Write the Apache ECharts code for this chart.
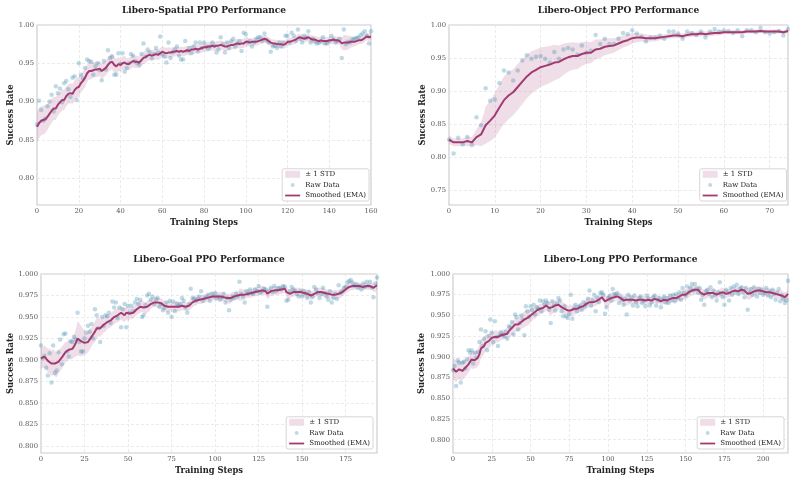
<!DOCTYPE html>
<html>
<head>
<meta charset="utf-8">
<script src="https://cdn.jsdelivr.net/npm/echarts@6/dist/echarts.min.js"></script>
<style>
html, body { margin: 0; padding: 0; background: #fff; }
#chart { width: 795px; height: 483px; }
</style>
</head>
<body>
<div id="chart"></div>
<script>
// titles / legend names
var titles = ['Libero-Spatial PPO Performance', 'Libero-Object PPO Performance',
              'Libero-Goal PPO Performance', 'Libero-Long PPO Performance'];
var bandName = '± 1 STD', rawName = 'Raw Data', emaName = 'Smoothed (EMA)';

// Libero-Spatial (steps 0..160)
var spatialRaw = [
  0.870,0.901,0.889,0.875,0.878,0.894,0.900,0.909,0.887,0.920,
  0.911,0.917,0.899,0.924,0.927,0.916,0.906,0.931,0.933,0.902,
  0.950,0.935,0.930,0.944,0.955,0.953,0.952,0.935,0.946,0.950,
  0.941,0.928,0.953,0.942,0.967,0.957,0.959,0.935,0.935,0.963,
  0.949,0.963,0.939,0.944,0.950,0.962,0.960,0.953,0.950,0.948,
  0.962,0.976,0.959,0.968,0.964,0.957,0.962,0.970,0.964,0.985,
  0.962,0.959,0.951,0.977,0.957,0.964,0.968,0.972,0.960,0.955,
  0.955,0.979,0.966,0.970,0.963,0.972,0.977,0.966,0.977,0.970,
  0.977,0.972,0.969,0.972,0.977,0.973,0.964,0.968,0.984,0.975,
  0.964,0.977,0.970,0.979,0.982,0.972,0.976,0.979,0.966,0.990,
  0.988,0.977,0.979,0.972,0.977,0.982,0.984,0.984,0.979,0.989,
  0.980,0.977,0.965,0.972,0.973,0.970,0.977,0.972,0.977,0.986,
  0.986,0.977,0.990,0.986,0.979,0.994,0.982,0.977,0.986,0.983,
  0.992,0.977,0.982,0.979,0.976,0.977,0.979,0.984,0.976,0.976,
  0.979,0.986,0.981,0.977,0.979,0.982,0.957,0.994,0.975,0.978,
  0.977,0.981,0.982,0.983,0.984,0.987,0.989,0.992,0.986,0.976,
  0.992];
var spatialEma = [
  0.867,0.872,0.875,0.876,0.877,0.880,0.884,0.888,0.891,0.891,
  0.896,0.899,0.902,0.902,0.907,0.910,0.911,0.910,0.915,0.918,
  0.919,0.924,0.927,0.931,0.937,0.940,0.940,0.941,0.942,0.942,
  0.943,0.940,0.942,0.944,0.948,0.951,0.952,0.948,0.946,0.949,
  0.948,0.950,0.951,0.949,0.949,0.951,0.953,0.952,0.952,0.951,
  0.954,0.957,0.958,0.960,0.961,0.960,0.961,0.962,0.961,0.963,
  0.965,0.964,0.963,0.964,0.964,0.965,0.965,0.966,0.965,0.966,
  0.965,0.966,0.967,0.966,0.968,0.968,0.969,0.968,0.969,0.970,
  0.971,0.971,0.972,0.972,0.973,0.972,0.973,0.973,0.974,0.973,
  0.972,0.972,0.973,0.974,0.974,0.975,0.976,0.975,0.976,0.976,
  0.978,0.978,0.977,0.978,0.978,0.978,0.979,0.980,0.981,0.982,
  0.981,0.979,0.977,0.976,0.976,0.975,0.975,0.975,0.974,0.975,
  0.978,0.978,0.979,0.980,0.981,0.983,0.984,0.983,0.982,0.983,
  0.984,0.982,0.981,0.981,0.980,0.979,0.980,0.979,0.979,0.979,
  0.980,0.980,0.981,0.980,0.980,0.979,0.976,0.977,0.977,0.977,
  0.978,0.978,0.978,0.979,0.980,0.980,0.981,0.983,0.985,0.984,
  0.985];
var spatialStd = [
  0.020,0.020,0.019,0.019,0.018,0.017,0.016,0.016,0.015,0.015,
  0.014,0.014,0.014,0.013,0.013,0.013,0.013,0.013,0.013,0.013,
  0.013,0.012,0.012,0.012,0.011,0.011,0.011,0.010,0.010,0.010,
  0.010,0.010,0.010,0.010,0.010,0.010,0.010,0.010,0.010,0.009,
  0.009,0.009,0.009,0.008,0.008,0.008,0.008,0.008,0.008,0.008,
  0.008,0.008,0.008,0.007,0.007,0.007,0.007,0.007,0.007,0.007,
  0.007,0.007,0.007,0.007,0.006,0.006,0.006,0.006,0.006,0.006,
  0.006,0.006,0.006,0.006,0.006,0.006,0.006,0.006,0.006,0.006,
  0.006,0.006,0.006,0.006,0.006,0.006,0.006,0.006,0.006,0.006,
  0.006,0.006,0.006,0.006,0.006,0.006,0.006,0.006,0.006,0.006,
  0.006,0.006,0.005,0.005,0.005,0.005,0.005,0.005,0.005,0.005,
  0.005,0.005,0.005,0.005,0.005,0.005,0.005,0.005,0.005,0.005,
  0.005,0.005,0.005,0.005,0.005,0.005,0.005,0.005,0.005,0.005,
  0.005,0.005,0.005,0.005,0.005,0.005,0.005,0.005,0.005,0.005,
  0.005,0.005,0.005,0.005,0.005,0.005,0.008,0.010,0.010,0.009,
  0.008,0.007,0.006,0.006,0.005,0.005,0.005,0.005,0.005,0.005,
  0.005];

// Libero-Object (steps 0..74)
var objectRaw = [
  0.826,0.805,0.829,0.819,0.830,0.819,0.860,0.848,0.904,0.885,
  0.887,0.912,0.931,0.928,0.916,0.931,0.946,0.954,0.949,0.952,
  0.953,0.949,0.943,0.959,0.949,0.963,0.965,0.963,0.955,0.969,
  0.958,0.961,0.985,0.971,0.979,0.971,0.971,0.979,0.988,0.986,
  0.992,0.987,0.982,0.975,0.981,0.981,0.984,0.979,0.990,0.990,
  0.987,0.979,0.990,0.988,0.985,0.990,0.981,0.990,0.994,0.990,
  0.992,0.991,0.988,0.992,0.983,0.992,0.992,0.989,0.996,0.989,
  0.987,0.989,0.991,0.984,0.994];
var objectEma = [
  0.826,0.822,0.822,0.822,0.824,0.822,0.830,0.834,0.848,0.855,
  0.863,0.875,0.886,0.893,0.898,0.906,0.914,0.922,0.928,0.932,
  0.936,0.938,0.940,0.943,0.944,0.948,0.951,0.953,0.953,0.956,
  0.958,0.958,0.963,0.964,0.967,0.968,0.969,0.972,0.975,0.977,
  0.980,0.981,0.981,0.980,0.980,0.980,0.981,0.982,0.983,0.984,
  0.984,0.983,0.985,0.986,0.986,0.987,0.986,0.987,0.988,0.988,
  0.989,0.989,0.989,0.989,0.989,0.990,0.990,0.990,0.991,0.990,
  0.990,0.990,0.990,0.989,0.991];
var objectStd = [
  0.006,0.006,0.006,0.006,0.007,0.008,0.012,0.018,0.028,0.031,
  0.034,0.035,0.036,0.036,0.035,0.035,0.034,0.033,0.032,0.031,
  0.030,0.029,0.028,0.027,0.025,0.024,0.022,0.021,0.020,0.018,
  0.017,0.016,0.015,0.014,0.013,0.012,0.011,0.010,0.009,0.009,
  0.008,0.007,0.006,0.006,0.005,0.005,0.004,0.004,0.004,0.004,
  0.004,0.004,0.004,0.004,0.004,0.004,0.004,0.004,0.004,0.004,
  0.003,0.003,0.003,0.003,0.003,0.003,0.003,0.003,0.003,0.003,
  0.003,0.003,0.003,0.003,0.003];

// Libero-Goal (steps 0..193)
var goalRaw = [
  0.917,0.902,0.905,0.891,0.882,0.908,0.874,0.917,0.885,0.888,
  0.909,0.924,0.895,0.930,0.931,0.910,0.904,0.922,0.921,0.927,
  0.924,0.955,0.921,0.910,0.910,0.925,0.932,0.940,0.933,0.942,
  0.925,0.959,0.952,0.937,0.921,0.950,0.940,0.952,0.951,0.955,
  0.943,0.968,0.961,0.967,0.949,0.961,0.938,0.959,0.965,0.938,
  0.963,0.955,0.963,0.957,0.967,0.971,0.965,0.970,0.950,0.952,
  0.964,0.975,0.977,0.970,0.974,0.965,0.970,0.972,0.962,0.965,
  0.958,0.961,0.967,0.955,0.969,0.950,0.968,0.957,0.965,0.963,
  0.965,0.972,0.969,0.961,0.955,0.965,0.983,0.972,0.971,0.969,
  0.971,0.974,0.980,0.969,0.972,0.973,0.976,0.969,0.977,0.974,
  0.978,0.972,0.974,0.970,0.973,0.977,0.967,0.972,0.958,0.970,
  0.974,0.972,0.977,0.974,0.991,0.977,0.974,0.967,0.980,0.977,
  0.982,0.978,0.977,0.982,0.980,0.986,0.978,0.980,0.983,0.982,
  0.962,0.980,0.984,0.979,0.986,0.980,0.983,0.984,0.982,0.986,
  0.985,0.969,0.970,0.980,0.985,0.982,0.980,0.977,0.974,0.980,
  0.974,0.980,0.977,0.972,0.979,0.967,0.974,0.985,0.982,0.978,
  0.972,0.977,0.984,0.978,0.974,0.970,0.980,0.967,0.972,0.977,
  0.971,0.987,0.978,0.980,0.984,0.985,0.990,0.992,0.993,0.990,
  0.986,0.988,0.984,0.986,0.982,0.989,0.985,0.991,0.986,0.991,
  0.984,0.973,0.989,0.996];
var goalEma = [
  0.902,0.903,0.904,0.902,0.899,0.899,0.896,0.898,0.896,0.894,
  0.898,0.900,0.903,0.906,0.909,0.910,0.912,0.912,0.913,0.916,
  0.920,0.925,0.924,0.922,0.921,0.920,0.919,0.921,0.924,0.927,
  0.930,0.933,0.937,0.939,0.937,0.939,0.941,0.942,0.944,0.945,
  0.946,0.948,0.950,0.951,0.952,0.953,0.955,0.953,0.952,0.955,
  0.953,0.954,0.955,0.955,0.957,0.959,0.961,0.962,0.963,0.961,
  0.960,0.962,0.963,0.965,0.967,0.967,0.968,0.967,0.966,0.966,
  0.964,0.963,0.962,0.962,0.963,0.962,0.961,0.962,0.963,0.962,
  0.962,0.963,0.963,0.962,0.961,0.963,0.965,0.967,0.969,0.969,
  0.970,0.970,0.970,0.971,0.972,0.972,0.973,0.973,0.974,0.974,
  0.974,0.974,0.974,0.974,0.974,0.973,0.972,0.972,0.971,0.972,
  0.974,0.974,0.975,0.975,0.976,0.976,0.976,0.976,0.977,0.977,
  0.977,0.978,0.979,0.979,0.980,0.980,0.981,0.981,0.981,0.980,
  0.977,0.978,0.980,0.980,0.981,0.981,0.981,0.981,0.982,0.982,
  0.983,0.979,0.977,0.977,0.978,0.979,0.979,0.979,0.979,0.979,
  0.979,0.978,0.977,0.977,0.977,0.975,0.975,0.977,0.979,0.979,
  0.979,0.979,0.979,0.978,0.977,0.977,0.977,0.976,0.976,0.976,
  0.976,0.977,0.977,0.979,0.981,0.982,0.984,0.985,0.986,0.986,
  0.986,0.986,0.986,0.986,0.985,0.985,0.986,0.986,0.985,0.986,
  0.986,0.984,0.984,0.987];
var goalStd = [
  0.012,0.012,0.013,0.013,0.014,0.014,0.015,0.015,0.015,0.014,
  0.014,0.013,0.013,0.012,0.012,0.011,0.011,0.011,0.012,0.013,
  0.016,0.020,0.019,0.018,0.016,0.014,0.012,0.012,0.012,0.011,
  0.011,0.012,0.012,0.011,0.010,0.010,0.009,0.009,0.008,0.008,
  0.008,0.008,0.008,0.008,0.008,0.008,0.008,0.008,0.008,0.008,
  0.008,0.007,0.007,0.007,0.007,0.007,0.007,0.007,0.007,0.007,
  0.007,0.007,0.007,0.006,0.006,0.006,0.006,0.006,0.006,0.006,
  0.006,0.006,0.006,0.006,0.006,0.006,0.006,0.006,0.006,0.006,
  0.005,0.005,0.005,0.005,0.005,0.005,0.006,0.006,0.006,0.006,
  0.005,0.005,0.005,0.005,0.005,0.005,0.005,0.005,0.005,0.005,
  0.005,0.005,0.005,0.005,0.005,0.005,0.005,0.005,0.006,0.006,
  0.005,0.005,0.005,0.005,0.007,0.007,0.006,0.006,0.005,0.005,
  0.005,0.005,0.005,0.005,0.005,0.005,0.005,0.005,0.005,0.005,
  0.006,0.006,0.005,0.005,0.005,0.005,0.005,0.005,0.005,0.005,
  0.005,0.006,0.006,0.005,0.005,0.005,0.005,0.005,0.005,0.005,
  0.005,0.005,0.005,0.005,0.005,0.005,0.005,0.005,0.005,0.005,
  0.005,0.005,0.005,0.005,0.005,0.005,0.005,0.005,0.005,0.005,
  0.005,0.005,0.005,0.005,0.005,0.005,0.005,0.005,0.005,0.005,
  0.004,0.004,0.004,0.004,0.004,0.004,0.004,0.004,0.004,0.004,
  0.004,0.005,0.005,0.005];

// Libero-Long (steps 0..216)
var longRaw = [
  0.884,0.889,0.865,0.896,0.893,0.869,0.893,0.894,0.886,0.897,
  0.908,0.905,0.908,0.892,0.905,0.899,0.906,0.918,0.933,0.913,
  0.922,0.931,0.908,0.925,0.945,0.929,0.918,0.943,0.924,0.913,
  0.926,0.929,0.927,0.925,0.930,0.922,0.937,0.935,0.942,0.927,
  0.951,0.948,0.933,0.941,0.950,0.945,0.926,0.961,0.955,0.948,
  0.961,0.957,0.963,0.951,0.960,0.958,0.968,0.955,0.967,0.963,
  0.968,0.965,0.957,0.941,0.967,0.962,0.956,0.964,0.971,0.968,
  0.955,0.949,0.961,0.949,0.947,0.952,0.975,0.946,0.958,0.963,
  0.955,0.960,0.962,0.957,0.966,0.961,0.964,0.970,0.980,0.962,
  0.968,0.975,0.955,0.972,0.966,0.977,0.978,0.975,0.952,0.960,
  0.971,0.973,0.968,0.982,0.976,0.974,0.977,0.965,0.972,0.969,
  0.963,0.970,0.951,0.975,0.968,0.972,0.962,0.974,0.966,0.961,
  0.971,0.973,0.965,0.968,0.961,0.974,0.970,0.962,0.966,0.972,
  0.974,0.962,0.968,0.971,0.960,0.969,0.973,0.966,0.971,0.965,
  0.974,0.969,0.975,0.967,0.976,0.971,0.978,0.969,0.983,0.977,
  0.974,0.985,0.978,0.983,0.988,0.980,0.988,0.982,0.977,0.983,
  0.969,0.975,0.963,0.979,0.981,0.976,0.984,0.972,0.980,0.975,
  0.968,0.978,0.990,0.976,0.972,0.963,0.981,0.978,0.968,0.983,
  0.975,0.985,0.979,0.987,0.976,0.982,0.984,0.978,0.972,0.983,
  0.957,0.978,0.982,0.975,0.984,0.979,0.973,0.982,0.977,0.981,
  0.975,0.978,0.983,0.974,0.979,0.972,0.981,0.976,0.969,0.977,
  0.982,0.967,0.974,0.970,0.965,0.968,0.992];
var longEma = [
  0.886,0.884,0.882,0.884,0.885,0.883,0.883,0.885,0.887,0.888,
  0.891,0.893,0.897,0.896,0.896,0.897,0.899,0.903,0.910,0.911,
  0.913,0.917,0.918,0.919,0.921,0.923,0.922,0.924,0.925,0.924,
  0.926,0.926,0.927,0.927,0.928,0.928,0.931,0.932,0.935,0.934,
  0.939,0.939,0.939,0.940,0.942,0.944,0.945,0.947,0.947,0.948,
  0.950,0.951,0.953,0.953,0.956,0.956,0.958,0.958,0.959,0.960,
  0.962,0.961,0.959,0.958,0.960,0.960,0.962,0.962,0.963,0.963,
  0.960,0.959,0.958,0.957,0.956,0.955,0.956,0.955,0.958,0.957,
  0.958,0.958,0.960,0.960,0.961,0.962,0.964,0.965,0.966,0.966,
  0.966,0.967,0.967,0.968,0.969,0.970,0.972,0.972,0.967,0.966,
  0.969,0.970,0.971,0.972,0.972,0.973,0.973,0.972,0.971,0.970,
  0.968,0.968,0.969,0.969,0.969,0.969,0.969,0.969,0.968,0.968,
  0.969,0.969,0.969,0.969,0.968,0.968,0.969,0.968,0.968,0.969,
  0.970,0.969,0.969,0.969,0.967,0.968,0.969,0.968,0.968,0.969,
  0.970,0.970,0.971,0.971,0.971,0.972,0.973,0.973,0.975,0.975,
  0.975,0.976,0.978,0.979,0.980,0.980,0.981,0.981,0.981,0.980,
  0.977,0.976,0.975,0.976,0.977,0.977,0.977,0.976,0.977,0.976,
  0.975,0.976,0.977,0.977,0.978,0.976,0.976,0.977,0.977,0.978,
  0.979,0.979,0.980,0.980,0.979,0.980,0.981,0.980,0.980,0.979,
  0.976,0.976,0.977,0.978,0.979,0.979,0.980,0.980,0.980,0.980,
  0.979,0.979,0.978,0.978,0.978,0.977,0.977,0.977,0.976,0.976,
  0.975,0.975,0.974,0.973,0.972,0.973,0.976];
var longStd = [
  0.012,0.013,0.013,0.012,0.012,0.011,0.011,0.011,0.010,0.010,
  0.010,0.009,0.010,0.011,0.010,0.010,0.011,0.012,0.012,0.011,
  0.010,0.010,0.009,0.009,0.009,0.008,0.008,0.008,0.007,0.007,
  0.007,0.006,0.006,0.006,0.006,0.007,0.007,0.008,0.008,0.009,
  0.009,0.008,0.008,0.008,0.009,0.009,0.010,0.010,0.009,0.009,
  0.008,0.008,0.007,0.007,0.007,0.006,0.006,0.006,0.006,0.006,
  0.006,0.006,0.007,0.008,0.008,0.007,0.007,0.006,0.006,0.006,
  0.006,0.007,0.007,0.006,0.006,0.006,0.007,0.007,0.006,0.006,
  0.005,0.005,0.005,0.005,0.005,0.006,0.006,0.006,0.006,0.006,
  0.006,0.006,0.006,0.005,0.005,0.005,0.005,0.005,0.007,0.007,
  0.007,0.007,0.006,0.006,0.006,0.005,0.005,0.005,0.006,0.006,
  0.006,0.006,0.007,0.006,0.006,0.005,0.005,0.005,0.005,0.005,
  0.005,0.005,0.005,0.005,0.005,0.005,0.005,0.005,0.005,0.005,
  0.005,0.005,0.005,0.005,0.005,0.005,0.005,0.005,0.005,0.005,
  0.005,0.005,0.005,0.005,0.005,0.005,0.005,0.006,0.006,0.006,
  0.006,0.006,0.006,0.006,0.006,0.006,0.005,0.005,0.005,0.005,
  0.006,0.006,0.006,0.006,0.006,0.005,0.005,0.005,0.005,0.005,
  0.005,0.005,0.005,0.006,0.006,0.006,0.006,0.005,0.005,0.005,
  0.005,0.005,0.005,0.005,0.005,0.005,0.005,0.005,0.005,0.005,
  0.007,0.007,0.007,0.006,0.006,0.006,0.005,0.005,0.005,0.005,
  0.005,0.005,0.005,0.005,0.005,0.005,0.005,0.005,0.005,0.005,
  0.005,0.005,0.006,0.006,0.006,0.006,0.006];

var FONT = '"DejaVu Serif", serif';
var LINE_COLOR = '#A23B72';
var DOT_COLOR = 'rgba(46,134,171,0.38)';
var BAND_COLOR = 'rgba(162,59,114,0.17)';
var DOT_ICON = 'path://M0,0 M15,7 M5.5,3.5 A2,2 0 1 1 9.5,3.5 A2,2 0 1 1 5.5,3.5 Z';
var LINE_ICON = 'path://M0,0 M15,7 M0,2.6 L15,2.6 L15,4.4 L0,4.4 Z';

// layout of each panel
var panels = [
  { title: titles[0], raw: spatialRaw, ema: spatialEma, std: spatialStd,
    grid: { left: 37, top: 25, width: 334, height: 180 }, titleTop: 6.3,
    xMax: 160, xStep: 20, showXMax: true, yMin: 0.765, yStep: 0.05, digits: 2,
    yNameGap: 22.5, legendInset: 2 },
  { title: titles[1], raw: objectRaw, ema: objectEma, std: objectStd,
    grid: { left: 449, top: 25, width: 339, height: 180 }, titleTop: 6.3,
    xMax: 74, xStep: 10, showXMax: false, yMin: 0.727, yStep: 0.05, digits: 2,
    yNameGap: 22.5, legendInset: 1.5 },
  { title: titles[2], raw: goalRaw, ema: goalEma, std: goalStd,
    grid: { left: 41, top: 274, width: 336, height: 179 }, titleTop: 255.3,
    xMax: 193, xStep: 25, showXMax: false, yMin: 0.792, yStep: 0.025, digits: 3,
    yNameGap: 26.5, legendInset: 4 },
  { title: titles[3], raw: longRaw, ema: longEma, std: longStd,
    grid: { left: 453, top: 274, width: 335, height: 179 }, titleTop: 255.3,
    xMax: 216, xStep: 25, showXMax: false, yMin: 0.784, yStep: 0.025, digits: 3,
    yNameGap: 27.5, legendInset: 4 }
];

function bandRenderer(ema, std) {
  return function (params, api) {
    if (params.dataIndex !== 0) return null;
    var upper = [], lower = [];
    for (var i = 0; i < ema.length; i++) {
      upper.push(api.coord([i, ema[i] + std[i]]));
      lower.push(api.coord([i, ema[i] - std[i]]));
    }
    return {
      type: 'polygon',
      shape: { points: upper.concat(lower.reverse()) },
      style: { fill: BAND_COLOR },
      silent: true
    };
  };
}

var option = {
  animation: false,
  backgroundColor: '#ffffff',
  title: [], grid: [], xAxis: [], yAxis: [], legend: [], series: []
};

panels.forEach(function (p, k) {
  option.title.push({
    text: p.title,
    left: p.grid.left + p.grid.width / 2,
    top: p.titleTop,
    textAlign: 'center',
    padding: 0,
    textStyle: { fontFamily: FONT, fontSize: 9, fontWeight: 'bold', color: '#222' }
  });
  option.grid.push({
    left: p.grid.left, top: p.grid.top, width: p.grid.width, height: p.grid.height,
    show: true, borderColor: '#cccccc', borderWidth: 1.2, backgroundColor: '#ffffff'
  });
  option.xAxis.push({
    type: 'value', gridIndex: k, min: 0, max: p.xMax,
    minInterval: p.xStep, maxInterval: p.xStep,
    name: 'Training Steps', nameLocation: 'middle', nameGap: 13.5,
    nameTextStyle: { fontFamily: FONT, fontSize: 8.3, fontWeight: 'bold', color: '#222' },
    axisLine: { show: false }, axisTick: { show: false },
    axisLabel: { fontFamily: FONT, fontSize: 6.8, color: '#555', margin: 3,
                 showMaxLabel: p.showXMax },
    splitLine: { show: true, lineStyle: { color: '#e6e6e6', width: 0.8, type: [3, 2] } }
  });
  option.yAxis.push({
    type: 'value', gridIndex: k, min: p.yMin, max: 1.0,
    minInterval: p.yStep, maxInterval: p.yStep,
    name: 'Success Rate', nameLocation: 'middle', nameGap: p.yNameGap, nameRotate: 90,
    nameTextStyle: { fontFamily: FONT, fontSize: 8.3, fontWeight: 'bold', color: '#222' },
    axisLine: { show: false }, axisTick: { show: false },
    axisLabel: { fontFamily: FONT, fontSize: 6.8, color: '#555', margin: 3,
                 showMinLabel: false,
                 formatter: (function (d) { return function (v) { return v.toFixed(d); }; })(p.digits) },
    splitLine: { show: true, lineStyle: { color: '#e6e6e6', width: 0.8, type: [3, 2] } }
  });
  option.legend.push({
    orient: 'vertical',
    right: 795 - (p.grid.left + p.grid.width - p.legendInset),
    bottom: 483 - (p.grid.top + p.grid.height - 4),
    padding: [2, 3, 2, 3],
    itemGap: 3.6, itemWidth: 15, itemHeight: 7,
    backgroundColor: 'rgba(255,255,255,0.9)',
    borderColor: '#cccccc', borderWidth: 0.8, borderRadius: 2,
    selectedMode: false,
    itemStyle: { borderWidth: 0 },
    textStyle: { fontFamily: FONT, fontSize: 7, color: '#222' },
    data: [
      { name: bandName, icon: 'rect' },
      { name: rawName, icon: DOT_ICON },
      { name: emaName, icon: LINE_ICON }
    ]
  });

  var bandData = p.ema.map(function (v, i) { return [i, v - p.std[i], v + p.std[i]]; });
  var rawData = p.raw.map(function (v, i) { return [i, v]; });
  var emaData = p.ema.map(function (v, i) { return [i, v]; });

  option.series.push({
    type: 'custom', name: bandName, xAxisIndex: k, yAxisIndex: k,
    renderItem: bandRenderer(p.ema, p.std),
    encode: { x: 0, y: [1, 2] },
    itemStyle: { color: BAND_COLOR },
    clip: true, silent: true, z: 1,
    data: bandData
  });
  option.series.push({
    type: 'scatter', name: rawName, xAxisIndex: k, yAxisIndex: k,
    symbolSize: 4.5, itemStyle: { color: DOT_COLOR }, silent: true, z: 2,
    data: rawData
  });
  option.series.push({
    type: 'line', name: emaName, xAxisIndex: k, yAxisIndex: k,
    showSymbol: false, symbol: 'none',
    itemStyle: { color: LINE_COLOR },
    lineStyle: { color: LINE_COLOR, width: 2 },
    silent: true, z: 3,
    data: emaData
  });
});

var chart = echarts.init(document.getElementById('chart'), null, { renderer: 'canvas' });
chart.setOption(option);
</script>
</body>
</html>
